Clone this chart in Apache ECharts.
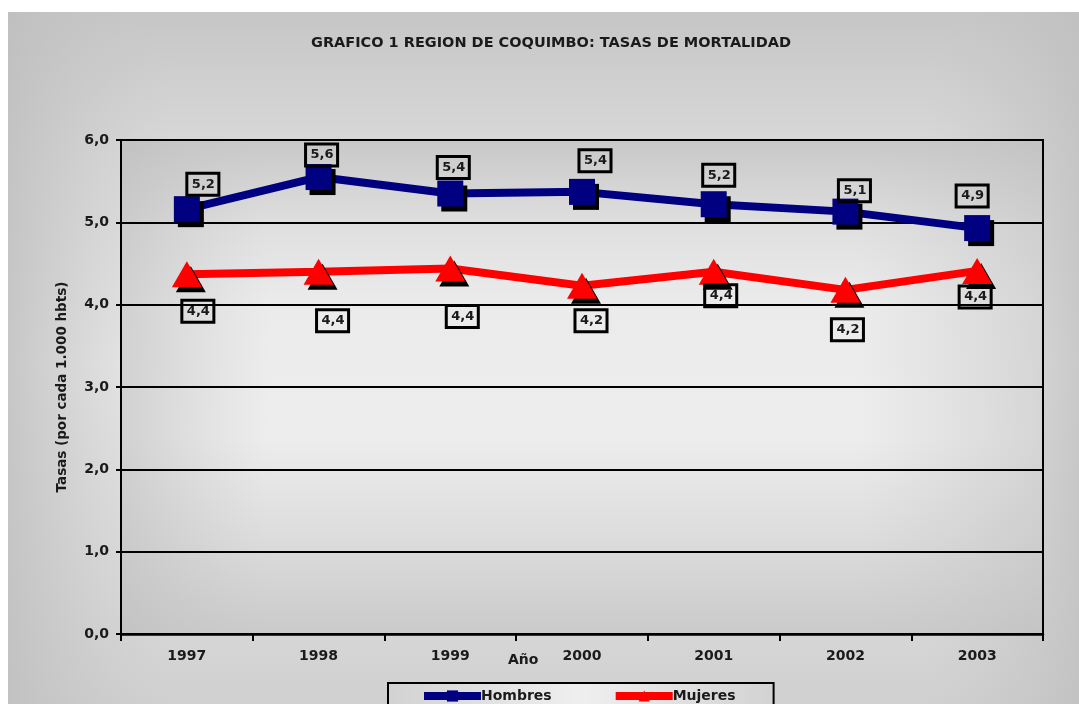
<!DOCTYPE html>
<html>
<head>
<meta charset="utf-8">
<script src="https://cdn.jsdelivr.net/npm/echarts@6/dist/echarts.min.js"></script>
<style>
html,body{margin:0;padding:0;background:#ffffff;}
#chart{width:1079px;height:704px;}
</style>
</head>
<body>
<div id="chart"></div>
<script>
// ---- data ----
const years = ['1997','1998','1999','2000','2001','2002','2003'];
const hombres = [5.16, 5.55, 5.35, 5.37, 5.22, 5.13, 4.93];
const mujeres = [4.37, 4.40, 4.44, 4.23, 4.40, 4.18, 4.41];
const yTicks = [0, 1, 2, 3, 4, 5, 6];

// ---- styling (label placements as in reference) ----
const hombresLabelOffsets = [[16,-25],[3,-22],[3,-26],[13,-31],[5,-29],[9,-21],[-5,-32]];
const mujeresLabelOffsets = [[11,37],[14,49],[12,48],[9,35],[7,24],[2,40],[-2,26]];

const FONT = '"DejaVu Sans", Verdana, sans-serif';
const G = {left:121, top:140, width:922, height:494};

function fmt(v){ return (Math.round(v*10+1e-9)/10).toFixed(1).replace('.', ','); }

const labelStyle = {
  show: true,
  position: 'inside',
  formatter: p => fmt(p.value),
  fontFamily: FONT, fontWeight: 'bold', fontSize: 13, color: '#1a1a1a',
  borderColor: '#000', borderWidth: 1.5,
  padding: [5, 4, 4, 5],
  backgroundColor: 'transparent',
  shadowColor: 'transparent', shadowBlur: 0, shadowOffsetX: 0, shadowOffsetY: 0,
  textShadowColor: 'transparent', textShadowBlur: 0, textShadowOffsetX: 0, textShadowOffsetY: 0
};

function buildData(vals, offs){
  return vals.map((v,i) => ({value: v, label: {offset: offs[i]}}));
}

const chart = echarts.init(document.getElementById('chart'), null, {renderer:'canvas'});

const option = {
  animation: false,
  backgroundColor: '#ffffff',
  title: {
    text: 'GRAFICO 1 REGION DE COQUIMBO: TASAS DE MORTALIDAD',
    left: 306, top: 31,
    textStyle: {fontFamily: FONT, fontWeight: 'bold', fontSize: 14.5, color: '#1a1a1a'}
  },
  graphic: [
    // outer panel
    {type:'rect', z:-20, silent:true, shape:{x:8, y:12, width:1080, height:700},
     style:{fill:{type:'linear', x:0, y:0, x2:0, y2:1, colorStops:[
       {offset:0, color:'#c6c6c6'},{offset:0.2, color:'#d9d9d9'},{offset:0.5, color:'#ebebeb'},
       {offset:0.8, color:'#dcdcdc'},{offset:1, color:'#cfcfcf'}]}}},
    {type:'rect', z:-19, silent:true, shape:{x:8, y:12, width:1080, height:700},
     style:{fill:{type:'linear', x:0, y:0, x2:1, y2:0, colorStops:[
       {offset:0, color:'rgba(190,190,190,0.8)'},{offset:0.15, color:'rgba(200,200,200,0)'},
       {offset:0.85, color:'rgba(200,200,200,0)'},{offset:1, color:'rgba(190,190,190,0.8)'}]}}},
    // plot area
    {type:'rect', z:-18, silent:true, shape:{x:G.left, y:G.top, width:G.width, height:G.height},
     style:{fill:{type:'linear', x:0, y:0, x2:0, y2:1, colorStops:[
       {offset:0, color:'#c8c8c8'},{offset:0.18, color:'#e0e0e0'},{offset:0.33, color:'#ebebeb'},
       {offset:0.6, color:'#ededed'},{offset:0.8, color:'#dddddd'},{offset:1, color:'#cacaca'}]}}},
    {type:'rect', z:-17, silent:true, shape:{x:G.left, y:G.top, width:G.width, height:G.height},
     style:{fill:{type:'linear', x:0, y:0, x2:1, y2:0, colorStops:[
       {offset:0, color:'rgba(190,190,190,0.6)'},{offset:0.16, color:'rgba(200,200,200,0)'},
       {offset:0.8, color:'rgba(200,200,200,0)'},{offset:1, color:'rgba(190,190,190,0.5)'}]}}},
    // x-axis title
    {type:'text', z:5, left:508, top:653, silent:true,
     style:{text:'Año', font:'bold 14px ' + FONT, fill:'#1a1a1a'}}
  ],
  grid: {left:G.left, top:G.top, width:G.width, height:G.height, show:true,
    backgroundColor:'transparent', borderColor:'#000', borderWidth:2},
  legend: {
    data: ['Hombres','Mujeres'],
    left: 388, top: 683,
    padding: [6, 38, 12, 32],
    itemGap: 60, itemWidth: 57, itemHeight: 14,
    borderColor: '#000', borderWidth: 2,
    lineStyle: {width: 8},
    backgroundColor: {type:'linear', x:0, y:0, x2:1, y2:0, colorStops:[
      {offset:0, color:'#d2d2d2'},{offset:0.5, color:'#efefef'},{offset:1, color:'#d2d2d2'}]},
    textStyle: {fontFamily: FONT, fontWeight:'bold', fontSize:14, color:'#1a1a1a', padding:[0,0,0,-5]}
  },
  xAxis: {
    type:'category', data: years, boundaryGap: true,
    axisLine:{lineStyle:{color:'#000', width:2.5}},
    axisTick:{show:true, length:7, lineStyle:{color:'#000', width:2}},
    axisLabel:{margin:15, fontFamily:FONT, fontWeight:'bold', fontSize:14, color:'#1a1a1a'}
  },
  yAxis: {
    type:'value', min: yTicks[0], max: yTicks[yTicks.length-1], interval: 1,
    name:'Tasas (por cada 1.000 hbts)', nameLocation:'middle', nameGap:52,
    nameTextStyle:{fontFamily:FONT, fontWeight:'bold', fontSize:13.5, color:'#1a1a1a'},
    axisLine:{show:true, lineStyle:{color:'#000', width:2}},
    axisTick:{show:true, length:5, lineStyle:{color:'#000', width:2}},
    splitLine:{show:true, lineStyle:{color:'#000', width:2}},
    axisLabel:{margin:12, formatter: v => fmt(v), fontFamily:FONT, fontWeight:'bold', fontSize:14, color:'#1a1a1a'}
  },
  series: [
    {
      name:'Hombres', type:'line', data: buildData(hombres, hombresLabelOffsets),
      symbol:'rect', symbolSize:26, showAllSymbol:true,
      lineStyle:{color:'#000080', width:8},
      itemStyle:{color:'#000080', shadowColor:'#000', shadowBlur:0, shadowOffsetX:4, shadowOffsetY:5},
      label: labelStyle,
      emphasis:{disabled:true}, z:3
    },
    {
      name:'Mujeres', type:'line', data: buildData(mujeres, mujeresLabelOffsets),
      symbol:'triangle', symbolSize:[30,26], showAllSymbol:true,
      lineStyle:{color:'#ff0000', width:8},
      itemStyle:{color:'#ff0000', shadowColor:'#000', shadowBlur:0, shadowOffsetX:4, shadowOffsetY:5},
      label: labelStyle,
      emphasis:{disabled:true}, z:4
    }
  ]
};
chart.setOption(option);
</script>
</body>
</html>
